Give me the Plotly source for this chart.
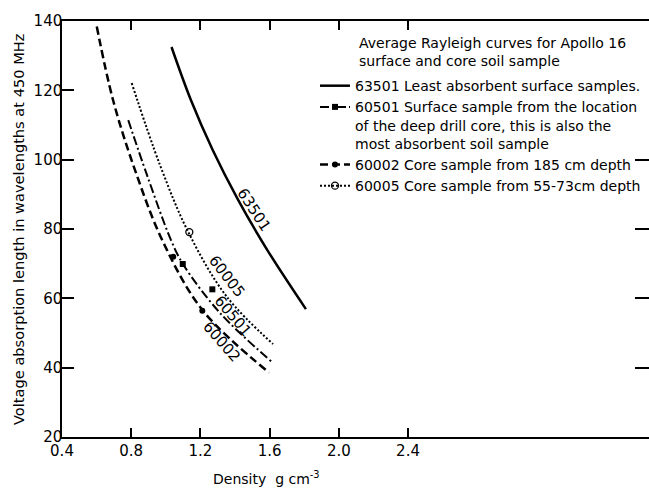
import plotly.graph_objects as go

# ---- data ----
x_63501 = [1.033, 1.145, 1.271, 1.418, 1.586, 1.810]
y_63501 = [132.5, 117.2, 102.8, 88.4, 74.0, 56.9]

x_60501 = [0.783, 0.891, 1.030, 1.099, 1.313, 1.612]
y_60501 = [111.4, 95.6, 76.8, 69.9, 55.8, 41.7]

x_60002 = [0.601, 0.695, 0.822, 0.984, 1.215, 1.597]
y_60002 = [138.4, 117.2, 97.0, 76.3, 56.4, 38.6]

x_60005 = [0.803, 0.966, 1.131, 1.352, 1.620]
y_60005 = [122.1, 98.5, 79.0, 60.5, 46.8]

# measured points
pts_60501_x = [1.098, 1.269]
pts_60501_y = [69.9, 62.6]
pts_60002_x = [1.043, 1.211]
pts_60002_y = [72.0, 56.4]
pts_60005_x = [1.136]
pts_60005_y = [79.1]

x_ticks = [0.4, 0.8, 1.2, 1.6, 2.0, 2.4]
x_ticklabels = ["0.4", "0.8", "1.2", "1.6", "2.0", "2.4"]
y_ticks = [20, 40, 60, 80, 100, 120, 140]
y_right_ticks = [40, 60, 80, 100]

legend_names = {
    "63501": "63501 Least absorbent surface samples.",
    "60501": "60501 Surface sample from the location<br>of the deep drill core, this is also the<br>most absorbent soil sample",
    "60002": "60002 Core sample from 185 cm depth",
    "60005": "60005 Core sample from 55-73cm depth",
}

FONT = "DejaVu Sans"
BLACK = "black"

styles = {
    "63501": dict(line=dict(color=BLACK, width=2.5, dash="solid"), marker=None),
    "60501": dict(line=dict(color=BLACK, width=2, dash="9px,3px,2px,3px"),
                  marker=dict(symbol="square", size=6, color=BLACK)),
    "60002": dict(line=dict(color=BLACK, width=2.5, dash="8px,4px"),
                  marker=dict(symbol="circle", size=6, color=BLACK)),
    "60005": dict(line=dict(color=BLACK, width=2, dash="2px,2px"),
                  marker=dict(symbol="circle-open", size=7, color=BLACK, line=dict(width=1.3))),
}

fig = go.Figure()

curves = [("63501", x_63501, y_63501), ("60501", x_60501, y_60501),
          ("60002", x_60002, y_60002), ("60005", x_60005, y_60005)]
for key, xs, ys in curves:
    fig.add_trace(go.Scatter(x=xs, y=ys, mode="lines", line=styles[key]["line"],
                             line_shape="spline", showlegend=False, hoverinfo="skip"))

# measured points (the 60005 point sits on the right-hand twin axis, which
# shares the same fixed range, so that the right-side tick marks are drawn)
for key, xs, ys, yax in [("60501", pts_60501_x, pts_60501_y, "y"),
                         ("60002", pts_60002_x, pts_60002_y, "y"),
                         ("60005", pts_60005_x, pts_60005_y, "y2")]:
    m = styles[key]["marker"]
    fig.add_trace(go.Scatter(x=xs, y=ys, mode="markers", marker=m, showlegend=False,
                             yaxis=yax, hoverinfo="skip"))

# legend entries
for key in ["63501", "60501", "60002", "60005"]:
    st = styles[key]
    kw = dict(x=[None], y=[None], name=legend_names[key], line=st["line"])
    if st["marker"] is None:
        kw["mode"] = "lines"
    else:
        kw["mode"] = "lines+markers"
        kw["marker"] = st["marker"]
    fig.add_trace(go.Scatter(**kw))

# curve labels
curve_labels = [("63501", 1.510, 85.5, 57), ("60005", 1.351, 66.4, 52),
                ("60501", 1.388, 54.9, 50), ("60002", 1.325, 47.5, 49)]
for txt, lx, ly, ang in curve_labels:
    fig.add_annotation(x=lx, y=ly, xref="x", yref="y", text=txt, showarrow=False,
                       textangle=ang, font=dict(family=FONT, size=15, color=BLACK))

fig.add_annotation(x=0.5026, y=0.972, xref="paper", yref="paper", xanchor="left", yanchor="top",
                   align="left", showarrow=False,
                   text="Average Rayleigh curves for Apollo 16<br>surface and core soil sample",
                   font=dict(family=FONT, size=14, color=BLACK))

fig.add_annotation(x=-0.075, y=0.5, xref="paper", yref="paper", xanchor="center", yanchor="middle",
                   textangle=-90, showarrow=False,
                   text="Voltage absorption length in wavelengths at 450 MHz",
                   font=dict(family=FONT, size=14.6, color=BLACK))

fig.add_annotation(x=0.349, y=-0.0986, xref="paper", yref="paper", xanchor="center", yanchor="middle",
                   showarrow=False,
                   text="Density  g cm<sup>-3</sup>",
                   font=dict(family=FONT, size=14, color=BLACK))

fig.update_layout(
    width=649, height=489,
    margin=dict(l=62, r=0, t=21, b=52),
    paper_bgcolor="white", plot_bgcolor="white",
    font=dict(family=FONT, size=14, color=BLACK),
    xaxis=dict(range=[0.4, 3.793], tickvals=x_ticks, ticktext=x_ticklabels,
               ticks="inside", ticklen=9, tickwidth=1.5, tickcolor=BLACK,
               showline=True, linecolor=BLACK, linewidth=1.5, mirror="ticks",
               showgrid=False, zeroline=False, tickfont=dict(size=15),
               ticklabelstandoff=-1),
    yaxis=dict(range=[20, 140], tickvals=y_ticks, ticks="inside", ticklen=12,
               tickwidth=1.5, tickcolor=BLACK, showline=True, linecolor=BLACK,
               linewidth=1.5, showgrid=False, zeroline=False, tickfont=dict(size=15),
               ticklabelstandoff=-5),
    yaxis2=dict(range=[20, 140], overlaying="y", side="right", anchor="x",
                tickmode="array", tickvals=y_right_ticks,
                ticks="inside", ticklen=14, tickwidth=2, tickcolor=BLACK,
                showticklabels=False, showline=True, linecolor="rgba(0,0,0,0)",
                showgrid=False, zeroline=False),
    legend=dict(x=0.431, y=0.882, xanchor="left", yanchor="top", bgcolor="rgba(0,0,0,0)",
                font=dict(family=FONT, size=14, color=BLACK), valign="top",
                tracegroupgap=0, itemclick=False),
    showlegend=True,
)

fig.write_html("out.html", config={"displayModeBar": False},
               post_script="document.body.style.margin='0';")
